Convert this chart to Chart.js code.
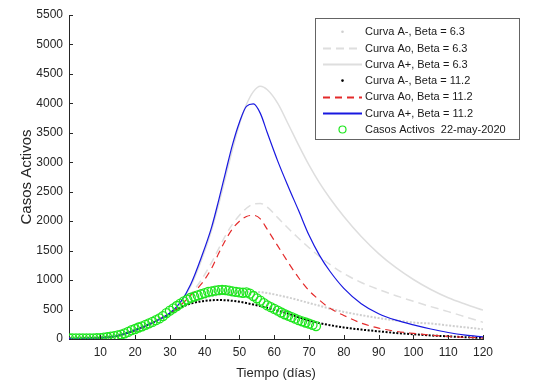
<!DOCTYPE html>
<html>
<head>
<meta charset="utf-8">
<script src="https://cdn.jsdelivr.net/npm/chart.js@4/dist/chart.umd.min.js"></script>
<style>
  html, body { margin: 0; padding: 0; background: #ffffff; }
  #wrap { width: 533px; height: 383px; }
</style>
</head>
<body>
<div id="wrap"><canvas id="c" width="533" height="383"></canvas></div>
<script>
// ---- Data ----
const modelDays = [1,5,10,15,20,25,30,33,36,39,42,44,46,48,50,52,54,56,58,61,64,67,70,73,76,80,85,90,95,100,105,110,115,120];

const aMinus63 = [8,10,20,55,150,275,430,540,620,680,725,750,770,785,795,800,800,795,780,745,705,660,610,565,515,460,405,355,315,280,262,230,198,165];
const aZero63  = [8,10,20,55,150,275,440,575,760,1000,1300,1530,1760,1950,2100,2220,2290,2300,2240,2060,1880,1710,1550,1400,1265,1110,960,840,735,640,550,465,375,285];
const aPlus63  = [8,10,20,55,150,275,440,610,900,1330,1850,2280,2750,3220,3650,3980,4200,4290,4230,4000,3650,3290,2950,2650,2390,2080,1740,1450,1210,1010,840,700,590,490];
const aMinus112 = [8,10,20,55,150,275,430,530,600,640,658,662,658,648,632,610,585,558,528,480,430,370,315,270,235,195,160,130,102,80,60,45,30,18];
const aZero112  = [8,10,20,55,150,275,440,570,740,930,1200,1450,1680,1870,2000,2080,2100,2040,1860,1580,1300,1040,820,660,520,400,270,185,130,95,65,45,28,18];
const aPlus112  = [8,10,20,55,150,275,440,620,930,1380,1900,2350,2830,3300,3680,3950,3990,3830,3500,3020,2590,2180,1760,1420,1150,860,600,430,320,240,170,110,65,35];

const activeDays = [];
for (let d = 1; d <= 72; d++) activeDays.push(d);
const activeCases = [10,10,10,10,10,10,12,12,14,16,25,30,40,50,60,75,95,120,150,170,195,215,240,265,290,320,350,390,440,480,520,560,600,640,670,700,720,740,760,780,800,810,820,830,835,830,820,810,800,790,785,790,770,730,690,650,610,570,540,510,480,450,420,395,370,345,320,300,280,260,240,220];

const xTickValues = [10,20,30,40,50,60,70,80,90,100,110,120];
const yTickValues = [0,500,1000,1500,2000,2500,3000,3500,4000,4500,5000,5500];

const seriesLabels = [
  'Curva A-, Beta = 6.3',
  'Curva Ao, Beta = 6.3',
  'Curva A+, Beta = 6.3',
  'Curva A-, Beta = 11.2',
  'Curva Ao, Beta = 11.2',
  'Curva A+, Beta = 11.2',
  'Casos Activos  22-may-2020'
];
const xTitle = 'Tiempo (días)';
const yTitle = 'Casos Activos';

// ---- Build datasets ----
const pts = (xs, ys) => xs.map((x, i) => ({x: x, y: ys[i]}));
const FONT = "'Liberation Sans', Arial, Helvetica, sans-serif";

function lineDs(label, ys, color, width, dash, order, kind) {
  return {
    label: label,
    data: pts(modelDays, ys),
    borderColor: color,
    backgroundColor: color,
    borderWidth: width,
    borderDash: dash,
    pointRadius: 0,
    pointHoverRadius: 0,
    fill: false,
    cubicInterpolationMode: 'monotone',
    order: order,
    legendKind: kind
  };
}

const datasets = [
  lineDs(seriesLabels[0], aMinus63, '#cfcfcf', 2, [2, 1.6], 6, 'dot'),
  lineDs(seriesLabels[1], aZero63, '#dedede', 1.5, [8, 5], 5, 'line'),
  lineDs(seriesLabels[2], aPlus63, '#dedede', 1.5, [], 4, 'line'),
  lineDs(seriesLabels[3], aMinus112, '#000000', 2, [2, 1.6], 3, 'dot'),
  lineDs(seriesLabels[4], aZero112, '#e42a2a', 1.2, [7, 5], 2, 'line'),
  lineDs(seriesLabels[5], aPlus112, '#1818e0', 1.2, [], 1, 'line'),
  {
    label: seriesLabels[6],
    data: pts(activeDays, activeCases),
    showLine: false,
    pointStyle: 'circle',
    pointRadius: 4.5,
    pointBorderWidth: 1.3,
    pointBorderColor: '#1ee61e',
    pointBackgroundColor: 'rgba(0,0,0,0)',
    borderColor: '#1ee61e',
    backgroundColor: 'rgba(0,0,0,0)',
    order: 0,
    legendKind: 'circle'
  }
];

// ---- Plugins: inward tick marks and MATLAB-like legend box ----
const matlabDecor = {
  id: 'matlabDecor',
  afterDraw(chart) {
    const ctx = chart.ctx;
    const xs = chart.scales.x, ys = chart.scales.y;
    const a = chart.chartArea;
    ctx.save();
    ctx.strokeStyle = '#262626';
    ctx.lineWidth = 1;
    ctx.beginPath();
    xTickValues.forEach(v => {
      const px = Math.round(xs.getPixelForValue(v)) + 0.5;
      ctx.moveTo(px, a.bottom);
      ctx.lineTo(px, a.bottom - 4);
    });
    yTickValues.forEach(v => {
      const py = Math.round(ys.getPixelForValue(v)) + 0.5;
      ctx.moveTo(a.left, py);
      ctx.lineTo(a.left + 4, py);
    });
    ctx.stroke();

    // legend
    const bx = 315.5, by = 18.5, bw = 204, bh = 121;
    ctx.fillStyle = '#ffffff';
    ctx.fillRect(bx, by, bw, bh);
    ctx.strokeStyle = '#646464';
    ctx.lineWidth = 1;
    ctx.strokeRect(bx, by, bw, bh);

    const rowY0 = 31.7, rowStep = 16.3;
    const lx1 = 323, lx2 = 362, mx = 342.5, tx = 365;
    ctx.font = '11px ' + FONT;
    ctx.textBaseline = 'middle';
    ctx.textAlign = 'left';
    chart.data.datasets.forEach((ds, i) => {
      const y = rowY0 + i * rowStep;
      const ry = Math.round(y) + 0.5;
      ctx.save();
      if (ds.legendKind === 'line') {
        ctx.strokeStyle = ds.borderColor;
        ctx.lineWidth = ds.borderWidth + 0.6;
        ctx.setLineDash(ds.borderDash || []);
        ctx.beginPath();
        ctx.moveTo(lx1, ry);
        ctx.lineTo(lx2, ry);
        ctx.stroke();
      } else if (ds.legendKind === 'dot') {
        ctx.fillStyle = ds.borderColor;
        ctx.beginPath();
        ctx.arc(mx, y, 1.3, 0, Math.PI * 2);
        ctx.fill();
      } else {
        ctx.strokeStyle = ds.pointBorderColor;
        ctx.lineWidth = 1.2;
        ctx.beginPath();
        ctx.arc(mx, y, 3.5, 0, Math.PI * 2);
        ctx.stroke();
      }
      ctx.restore();
      ctx.fillStyle = '#1a1a1a';
      ctx.fillText(ds.label, tx, y + 0.5);
    });
    ctx.restore();
  }
};

new Chart(document.getElementById('c'), {
  type: 'line',
  data: { datasets: datasets },
  options: {
    responsive: false,
    animation: false,
    devicePixelRatio: 1,
    layout: { padding: { left: 0, right: 50, top: 15, bottom: 0 } },
    plugins: {
      legend: { display: false },
      tooltip: { enabled: false },
      title: { display: false }
    },
    scales: {
      x: {
        type: 'linear',
        min: 1,
        max: 120,
        afterBuildTicks: s => { s.ticks = xTickValues.map(v => ({value: v})); },
        afterFit: s => { s.height = 44; },
        grid: { display: false, drawTicks: false },
        border: { display: true, color: '#262626', width: 1 },
        ticks: {
          padding: 6,
          color: '#262626',
          font: { family: FONT, size: 12 },
          maxRotation: 0,
          autoSkip: false,
          callback: v => String(v)
        },
        title: {
          display: true,
          text: xTitle,
          color: '#262626',
          font: { family: FONT, size: 13 },
          padding: { top: 0, bottom: 2 }
        }
      },
      y: {
        type: 'linear',
        min: 0,
        max: 5500,
        afterBuildTicks: s => { s.ticks = yTickValues.map(v => ({value: v})); },
        afterFit: s => { s.width = 69; },
        grid: { display: false, drawTicks: false },
        border: { display: true, color: '#262626', width: 1 },
        ticks: {
          padding: 6,
          color: '#262626',
          font: { family: FONT, size: 12 },
          autoSkip: false,
          callback: v => String(v)
        },
        title: {
          display: true,
          text: yTitle,
          color: '#262626',
          font: { family: FONT, size: 15 },
          padding: { top: 18, bottom: 0 }
        }
      }
    }
  },
  plugins: [matlabDecor]
});
</script>
</body>
</html>
